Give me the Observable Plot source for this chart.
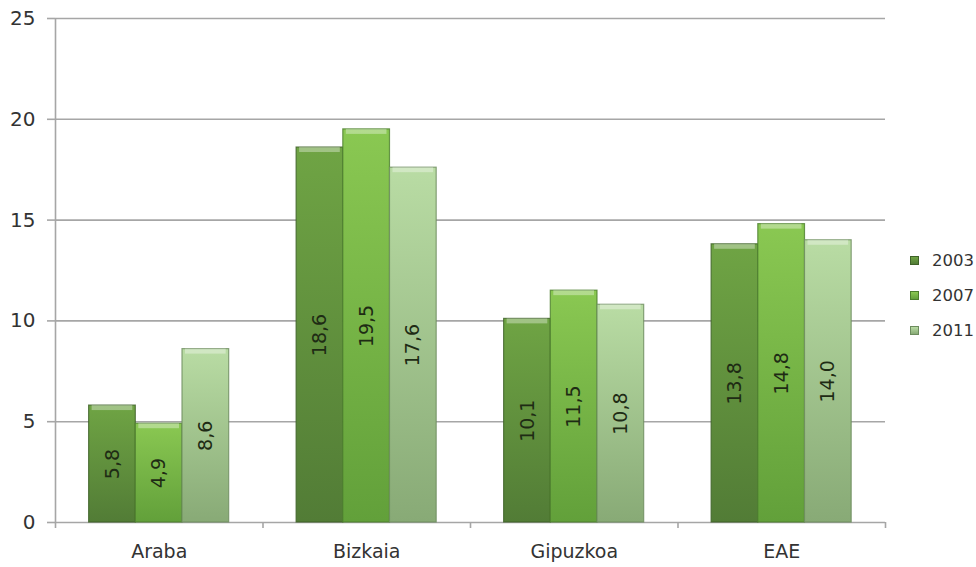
<!DOCTYPE html>
<html>
<head>
<meta charset="utf-8">
<script src="https://cdn.jsdelivr.net/npm/d3@7"></script>
<script src="https://cdn.jsdelivr.net/npm/@observablehq/plot@0.6"></script>
<style>
  html, body { margin: 0; padding: 0; background: #fff; }
  #wrap { position: relative; width: 976px; height: 567px; font-family: "DejaVu Sans", Verdana, sans-serif; }
  #legend { position: absolute; left: 910px; top: 243px; font-size: 16.5px; color: #333; }
  #legend .item { display: flex; align-items: center; height: 35px; }
  #legend .sw { width: 9px; height: 9px; margin-right: 13px; box-sizing: border-box; }
</style>
</head>
<body>
<div id="wrap"></div>
<script>
const categories = ["Araba", "Bizkaia", "Gipuzkoa", "EAE"];
const years = ["2003", "2007", "2011"];
const v2003 = [5.8, 18.6, 10.1, 13.8];
const v2007 = [4.9, 19.5, 11.5, 14.8];
const v2011 = [8.6, 17.6, 10.8, 14.0];
const yTicks = [0, 5, 10, 15, 20, 25];

const series = [v2003, v2007, v2011];
const colors = {
  "2003": { top: "#6fa444", bot: "#527c36", edge: "#3f6228" },
  "2007": { top: "#8ac852", bot: "#62a03a", edge: "#4b7e2c" },
  "2011": { top: "#b9dca4", bot: "#88aa76", edge: "#6d8c5e" }
};

const groupPad = 0.162, barW = 0.225;
const rows = [];
categories.forEach((c, ci) => {
  years.forEach((yr, yi) => {
    const x1 = ci + groupPad + yi * barW;
    rows.push({ category: c, year: yr, value: series[yi][ci], x1, x2: x1 + barW, xm: x1 + barW / 2 });
  });
});

const fmt = v => v.toFixed(1).replace(".", ",");

const plot = Plot.plot({
  width: 976,
  height: 567,
  marginLeft: 55,
  marginRight: 91,
  marginTop: 18,
  marginBottom: 45,
  style: { fontFamily: "DejaVu Sans, Verdana, sans-serif", fontSize: "20px", color: "#333", background: "transparent" },
  x: { type: "linear", domain: [0, categories.length], ticks: [0, 1, 2, 3, 4], tickFormat: () => "", tickSize: 6, label: null },
  y: { domain: [0, 25], ticks: yTicks, tickSize: 8, tickPadding: 12, label: null, tickFormat: d => String(d) },
  marks: [
    Plot.ruleY(yTicks, { stroke: "#a6a6a6", strokeWidth: 1.6 }),
    Plot.ruleX([0], { stroke: "#a6a6a6", strokeWidth: 1.6 }),
    Plot.rectY(rows, {
      x1: "x1", x2: "x2", y1: 0, y2: "value",
      fill: d => `url(#grad${d.year})`,
      stroke: d => colors[d.year].edge, strokeWidth: 1.2, strokeOpacity: 0.8
    }),
    Plot.rectY(rows, {
      x1: "x1", x2: "x2", y1: "value", y2: "value",
      insetBottom: -5, insetLeft: 3, insetRight: 3,
      fill: "#ffffff", fillOpacity: 0.35
    }),
    Plot.text(rows, {
      x: "xm", y: d => d.value / 2, text: d => fmt(d.value),
      rotate: -90, fontSize: "19px", fill: "#1e2b14"
    }),
    Plot.text(categories, {
      x: (d, i) => i + 0.5, y: 0, text: d => d, dy: 29, fontSize: "19px", fill: "#333"
    })
  ]
});

// gradient definitions for the bar fills
const svg = d3.select(plot);
const defs = svg.insert("defs", ":first-child");
years.forEach(yr => {
  const g = defs.append("linearGradient").attr("id", "grad" + yr)
    .attr("x1", 0).attr("y1", 0).attr("x2", 0).attr("y2", 1);
  g.append("stop").attr("offset", "0%").attr("stop-color", colors[yr].top);
  g.append("stop").attr("offset", "100%").attr("stop-color", colors[yr].bot);
});
svg.selectAll("g[aria-label^='y-axis tick'] path, g[aria-label^='x-axis tick'] path").attr("stroke", "#a6a6a6").attr("stroke-width", 1.6);
svg.selectAll("g[aria-label^='y-axis tick'] line, g[aria-label^='x-axis tick'] line").attr("stroke", "#a6a6a6");
svg.selectAll("g[aria-label^='y-axis tick label']").attr("font-size", "20px");

const wrap = document.getElementById("wrap");
wrap.appendChild(plot);

const legend = document.createElement("div");
legend.id = "legend";
years.forEach(yr => {
  const item = document.createElement("div");
  item.className = "item";
  const sw = document.createElement("span");
  sw.className = "sw";
  sw.style.background = `linear-gradient(${colors[yr].top}, ${colors[yr].bot})`;
  sw.style.border = `1px solid ${colors[yr].edge}`;
  const lab = document.createElement("span");
  lab.textContent = yr;
  item.appendChild(sw);
  item.appendChild(lab);
  legend.appendChild(item);
});
wrap.appendChild(legend);
</script>
</body>
</html>
